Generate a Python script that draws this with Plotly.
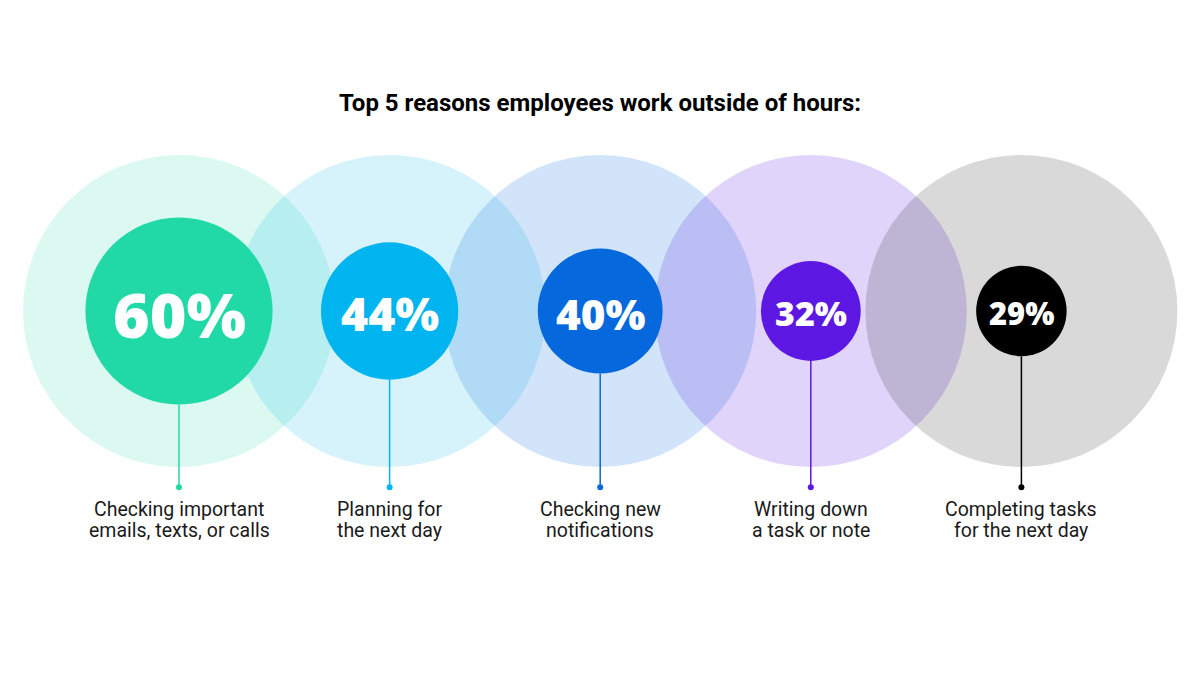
import plotly.graph_objects as go

# ---- data ----
reasons_line1 = ["Checking important", "Planning for", "Checking new", "Writing down", "Completing tasks"]
reasons_line2 = ["emails, texts, or calls", "the next day", "notifications", "a task or note", "for the next day"]
shares = [60, 44, 40, 32, 29]          # percent of employees
full_scale = 100                        # outer circle = 100%
title_text = "Top 5 reasons employees work outside of hours:"

# ---- styles ----
colors = ["#20D9A7", "#00B4EF", "#0568DC", "#5C18E2", "#000000"]
halo_alpha = [0.16, 0.16, 0.18, 0.19, 0.15]
SPACING = 135          # distance between circle centres, in percent units
PX_PER_UNIT = 1.56
W, H = 1200, 675
CX0_PX, CY_PX = 179, 311
STEM_END = -113        # y of the dot below each circle
LABEL_Y1, LABEL_Y2 = -127.5, -141

def rgba(hex_c, a):
    h = hex_c.lstrip("#")
    r, g, b = int(h[0:2], 16), int(h[2:4], 16), int(h[4:6], 16)
    return f"rgba({r},{g},{b},{a})"

xs = [i * SPACING for i in range(len(shares))]

fig = go.Figure()
shapes = []
# outer halos (100%)
for x, c, a in zip(xs, colors, halo_alpha):
    shapes.append(dict(type="circle", xref="x", yref="y", layer="below",
                       x0=x - full_scale, x1=x + full_scale, y0=-full_scale, y1=full_scale,
                       fillcolor=rgba(c, a), line=dict(width=0)))
# stems
for x, v, c in zip(xs, shares, colors):
    shapes.append(dict(type="line", xref="x", yref="y", layer="above",
                       x0=x, x1=x, y0=-v, y1=STEM_END, line=dict(color=c, width=1.5)))
# inner circles sized by value
for x, v, c in zip(xs, shares, colors):
    shapes.append(dict(type="circle", xref="x", yref="y", layer="above",
                       x0=x - v, x1=x + v, y0=-v, y1=v,
                       fillcolor=c, line=dict(width=0)))

# stem dots
fig.add_trace(go.Scatter(x=xs, y=[STEM_END] * len(xs), mode="markers",
                         marker=dict(size=6, color=colors), hoverinfo="skip", showlegend=False))

annotations = []
for x, v in zip(xs, shares):
    annotations.append(dict(x=x, y=0, xref="x", yref="y", text=f"{v}%", showarrow=False, yshift=-2,
                            font=dict(family="Open Sans", size=1.03 * v + 1, color="white", weight=800),
                            xanchor="center", yanchor="middle"))
for x, l1, l2 in zip(xs, reasons_line1, reasons_line2):
    for txt, yy in ((l1, LABEL_Y1), (l2, LABEL_Y2)):
        annotations.append(dict(x=x, y=yy, xref="x", yref="y", text=txt, showarrow=False,
                                font=dict(family="Roboto", size=19.5, color="#1a1a1a"),
                                xanchor="center", yanchor="middle"))
annotations.append(dict(x=0.5, y=(H - 103) / H, xref="paper", yref="paper", text=f"<b>{title_text}</b>",
                        showarrow=False, font=dict(family="Roboto", size=24, color="#000000"),
                        xanchor="center", yanchor="middle"))

x_lo = -CX0_PX / PX_PER_UNIT
x_hi = (W - CX0_PX) / PX_PER_UNIT
y_hi = CY_PX / PX_PER_UNIT
y_lo = -(H - CY_PX) / PX_PER_UNIT

fig.update_layout(
    width=W, height=H, margin=dict(l=0, r=0, t=0, b=0),
    paper_bgcolor="white", plot_bgcolor="white",
    shapes=shapes, annotations=annotations,
    xaxis=dict(range=[x_lo, x_hi], visible=False, fixedrange=True),
    yaxis=dict(range=[y_lo, y_hi], visible=False, fixedrange=True),
    showlegend=False,
)
fig.write_html("out.html", config={"displayModeBar": False},
               post_script="document.body.style.margin='0';document.body.style.overflow='hidden';")
